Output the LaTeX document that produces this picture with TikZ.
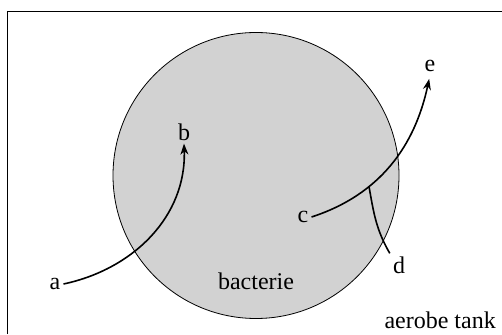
\documentclass[tikz,border=0pt]{standalone}
\usepackage{fontspec}
\setmainfont{Liberation Serif}
\usetikzlibrary{arrows.meta}

\begin{document}
\begin{tikzpicture}[x=1pt, y=1pt, >={Stealth[length=11pt,width=8pt]},
  lbl/.style={font=\fontsize{24}{24}\selectfont, inner sep=3pt},
  flow/.style={->, line width=1.6pt}]
\useasboundingbox (0,0) rectangle (502,334);
\draw[line width=0.8pt] (7,0) -- (7,323) -- (502,323);

\node[circle, draw, line width=0.8pt, fill=gray!35, minimum size=286pt, inner sep=0pt] (cell) at (256,158.5) {};

\node[lbl] (a) at (55,50) {a};
\node[lbl] (b) at (184,202) {b};
\node[lbl] (c) at (303,117) {c};
\node[lbl] (d) at (399,69) {d};
\node[lbl] (e) at (430,268) {e};
\node[lbl] (bac) at (256,53) {bacterie};
\node[lbl, anchor=base east] (tank) at (499,6) {aerobe tank};

\draw[flow] (a.east) to[out=12, in=-88] (b.south);
\draw[flow, shorten >=4pt] (c.east) to[out=18, in=-102] coordinate[pos=0.33] (dj) (e.south);
\draw[line width=1.6pt] (dj) to[out=-80, in=120] (d.north west);
\end{tikzpicture}
\end{document}
